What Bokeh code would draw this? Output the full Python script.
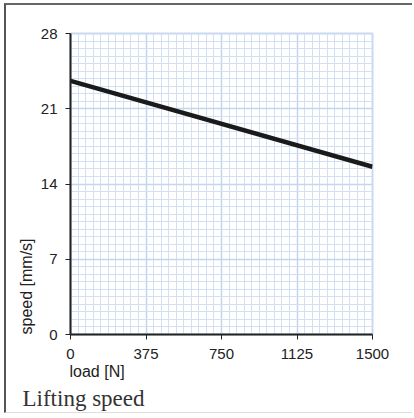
from bokeh.plotting import figure
from bokeh.models import FixedTicker, Range1d, Title
from bokeh.embed import file_html
from bokeh.resources import INLINE

# data
load_N = [0, 1500]
speed_mm_s = [23.6, 15.6]
x_ticks = [0, 375, 750, 1125, 1500]
y_ticks = [0, 7, 14, 21, 28]

x_minor = [x_ticks[0] + i * (x_ticks[1] - x_ticks[0]) / 10 for i in range(41)]
y_minor = [y_ticks[0] + i * (y_ticks[1] - y_ticks[0]) / 10 for i in range(41)]

p = figure(width=408, height=410, output_backend="svg", toolbar_location=None,
           x_range=Range1d(0, 1500), y_range=Range1d(0, 28),
           min_border_left=64, min_border_right=42, min_border_top=28, min_border_bottom=80)
p.styles = {"margin-left": "4px", "margin-top": "3px",
            "border-top": "2px solid #666666", "border-left": "2px solid #555555",
            "border-bottom": "1px solid #dddddd"}
p.background_fill_color = "white"
p.border_fill_color = "white"
p.outline_line_color = "#c9d9f1"
p.outline_line_width = 2

for ax, ticks, minor in ((p.xaxis, x_ticks, x_minor), (p.yaxis, y_ticks, y_minor)):
    ax.ticker = FixedTicker(ticks=ticks, minor_ticks=minor)
    ax.axis_line_color = "#222222"
    ax.axis_line_width = 2
    ax.major_tick_line_color = "#222222"
    ax.major_tick_out = 5
    ax.major_tick_in = 0
    ax.minor_tick_line_color = None
    ax.major_label_text_font = "Liberation Sans"
    ax.major_label_text_font_size = "15px"
    ax.major_label_text_color = "#222222"
p.xaxis.major_label_standoff = 9
p.yaxis.major_label_standoff = 8

for g in (p.xgrid, p.ygrid):
    g.grid_line_color = "#c4d5ef"
    g.grid_line_width = 1.5
    g.grid_line_alpha = 1
    g.minor_grid_line_color = "#d3e0f4"
    g.minor_grid_line_width = 1

p.line(load_N, speed_mm_s, line_color="#1a1a1a", line_width=4.5)

p.add_layout(Title(text="load [N]", align="left", offset=-1, standoff=-1,
                   text_font="Liberation Sans", text_font_size="16px",
                   text_font_style="normal", text_color="#222222"), "below")
p.add_layout(Title(text="Lifting speed", align="left", offset=-48, standoff=9,
                   text_font="Liberation Serif", text_font_size="23px",
                   text_font_style="normal", text_color="#333333"), "below")
p.add_layout(Title(text="speed [mm/s]", align="left", offset=0, standoff=5,
                   text_font="Liberation Sans", text_font_size="16px",
                   text_font_style="normal", text_color="#222222"), "left")

open("out.html", "w").write(file_html(p, INLINE))
